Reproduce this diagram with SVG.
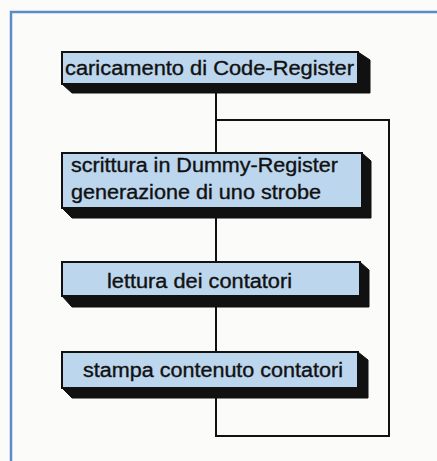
<svg xmlns="http://www.w3.org/2000/svg" width="437" height="461" viewBox="0 0 437 461">
<style>
.box{fill:#bcd6ee;stroke:#111;stroke-width:2}
.sh{fill:#111;stroke:#111;stroke-width:1}
.t{font-family:"Liberation Sans",Arial,sans-serif;font-size:19.5px;fill:#111;stroke:#111;stroke-width:0.35}
.c{fill:none;stroke:#111;stroke-width:2}
</style>
<rect x="0" y="0" width="437" height="461" fill="#fbfbfa"/>
<path d="M11,461 V12 H437" fill="none" stroke="#5b8bc8" stroke-width="2.5"/>
<g id="connectors">
<path class="c" d="M216,92 V153"/>
<path class="c" d="M216,120 H389 V436 H216 V398"/>
<path class="c" d="M216,218 V262"/>
<path class="c" d="M216,306 V352"/>
</g>
<g id="n1">
<polygon class="sh" points="358,52 370,60 370,93 72,93 62,84 358,84"/>
<rect class="box" x="62" y="52" width="296" height="32"/>
<text class="t" x="65" y="75" textLength="289" lengthAdjust="spacingAndGlyphs">caricamento di Code-Register</text>
</g>
<g id="n2">
<polygon class="sh" points="362,153 371,161 371,218 72,218 62,208 362,208"/>
<rect class="box" x="62" y="153" width="300" height="55"/>
<text class="t" x="71" y="172" textLength="267" lengthAdjust="spacingAndGlyphs">scrittura in Dummy-Register</text>
<text class="t" x="71" y="199" textLength="250" lengthAdjust="spacingAndGlyphs">generazione di uno strobe</text>
</g>
<g id="n3">
<polygon class="sh" points="360,262 369,270 369,307 72,307 62,296 360,296"/>
<rect class="box" x="62" y="262" width="298" height="34"/>
<text class="t" x="107" y="288" textLength="185" lengthAdjust="spacingAndGlyphs">lettura dei contatori</text>
</g>
<g id="n4">
<polygon class="sh" points="358,352 368,360 368,398 72,398 62,388 358,388"/>
<rect class="box" x="62" y="352" width="296" height="36"/>
<text class="t" x="83" y="377" textLength="260" lengthAdjust="spacingAndGlyphs">stampa contenuto contatori</text>
</g>
</svg>
